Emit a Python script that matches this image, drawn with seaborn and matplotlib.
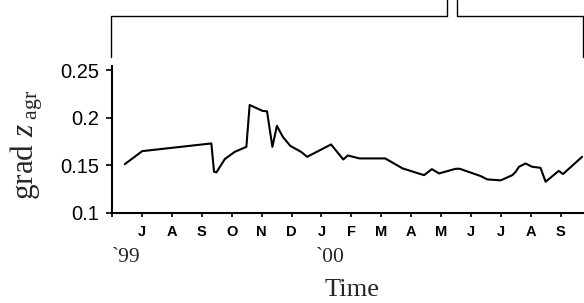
import matplotlib
matplotlib.use("Agg")
import matplotlib.pyplot as plt
from matplotlib.lines import Line2D
import seaborn as sns
import pandas as pd

# Data: x = months since start of June 1999 (fractional), y = grad z_agr
month_pos = [0.43, 1.01, 3.32, 3.41, 3.49, 3.77, 4.10, 4.49, 4.60, 5.04, 5.18,
             5.36, 5.51, 5.71, 5.96, 6.32, 6.52, 7.32, 7.73, 7.88, 8.27, 9.13,
             9.71, 10.24, 10.43, 10.69, 10.93, 11.49, 11.62, 12.32, 12.54, 12.99,
             13.38, 13.49, 13.60, 13.82, 14.04, 14.32, 14.49, 14.93, 15.07, 15.71]
grad_z = [0.1512, 0.1649, 0.1730, 0.1431, 0.1425, 0.1565, 0.1641, 0.1694, 0.2135, 0.2072, 0.2069,
          0.1694, 0.1915, 0.1799, 0.1704, 0.1641, 0.1589, 0.1719, 0.1561, 0.1603, 0.1572, 0.1572,
          0.1467, 0.1414, 0.1396, 0.1459, 0.1414, 0.1463, 0.1463, 0.1386, 0.1351, 0.1341,
          0.1396, 0.1431, 0.1484, 0.1519, 0.1484, 0.1473, 0.1326, 0.1441, 0.1407, 0.1589]
month_labels = ["", "J", "A", "S", "O", "N", "D", "J", "F", "M", "A", "M", "J", "J", "A", "S"]
y_ticks = [0.1, 0.15, 0.2, 0.25]
y_ticklabels = ["0.1", "0.15", "0.2", "0.25"]
year_labels = ["`99", "`00"]

sns.set_style("ticks")
plt.rcParams["font.family"] = ["Liberation Sans", "DejaVu Sans"]
plt.rcParams["mathtext.fontset"] = "custom"
plt.rcParams["mathtext.rm"] = "Liberation Serif"
plt.rcParams["mathtext.it"] = "Liberation Serif:italic"

W, H = 584, 303
fig = plt.figure(figsize=(W / 100, H / 100), dpi=100)
ax_left, ax_right = 112 / W, 583 / W
ax_bottom, ax_top = 1 - 212.7 / H, 1 - 66.2 / H
ax = fig.add_axes([ax_left, ax_bottom, ax_right - ax_left, ax_top - ax_bottom])

df = pd.DataFrame({"t": month_pos, "g": grad_z})
sns.lineplot(data=df, x="t", y="g", ax=ax, color="black", linewidth=1.5)

ax.set_xlim(0, 15.74)
ax.set_ylim(0.1, 0.2544)
ax.set_xticks(range(len(month_labels)))
ax.set_xticklabels(month_labels, fontsize=10.5, fontweight="bold")
ax.set_yticks(y_ticks)
ax.set_yticklabels(y_ticklabels, fontsize=14.5)
ax.tick_params(axis="x", length=3, width=1.2, pad=5.5, colors="black")
ax.tick_params(axis="y", length=4, width=1.2, pad=5, colors="black")
ax.set_xlabel("")
ax.set_ylabel("")
for s in ["top", "right"]:
    ax.spines[s].set_visible(False)
for s in ["left", "bottom"]:
    ax.spines[s].set_linewidth(1.5)
    ax.spines[s].set_color("black")

serif = ["Liberation Serif", "DejaVu Serif"]
fig.text(112 / W, 1 - 258 / H, year_labels[0], family=serif, fontsize=15.5, ha="left", va="center")
fig.text(316 / W, 1 - 258 / H, year_labels[1], family=serif, fontsize=15.5, ha="left", va="center")
fig.text(352 / W, 1 - 290 / H, "Time", family=serif, fontsize=19, ha="center", va="center")
fig.text(27 / W, 1 - 145 / H, r"grad $z_{\ \mathrm{agr}}$", family=serif, fontsize=22.5,
         rotation=90, ha="center", va="center")

# bracket annotation at top
def px(x, y):
    return x / W, 1 - y / H

lines = [
    [(110.6, 56.6), (110.6, 15.6), (447, 15.6), (447, 0)],
    [(457, 0), (457, 15.6), (582.5, 15.6), (582.5, 56.6)],
]
for pts in lines:
    xs = [px(*p)[0] for p in pts]
    ys = [px(*p)[1] for p in pts]
    fig.add_artist(Line2D(xs, ys, transform=fig.transFigure, color="black", linewidth=1.0))

fig.savefig("out.png", dpi=100)
